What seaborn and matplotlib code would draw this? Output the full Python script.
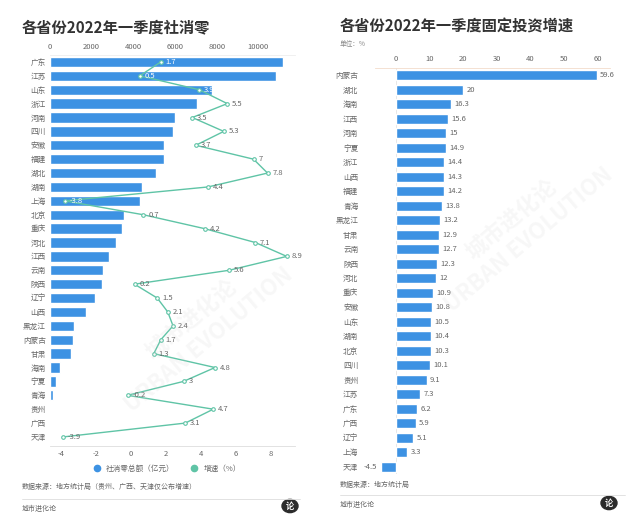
import numpy as np
import pandas as pd
import seaborn as sns
import matplotlib.pyplot as plt
from matplotlib.patches import Circle

# left panel: retail sales (亿元) and growth (%)
retail_prov = ["广东", "江苏", "山东", "浙江", "河南", "四川", "安徽", "福建", "湖北", "湖南",
               "上海", "北京", "重庆", "河北", "江西", "云南", "陕西", "辽宁", "山西", "黑龙江",
               "内蒙古", "甘肃", "海南", "宁夏", "青海", "贵州", "广西", "天津"]
retail_total = [11190, 10830, 7790, 7070, 5980, 5880, 5470, 5470, 5100, 4410,
                4340, 3540, 3460, 3170, 2840, 2530, 2480, 2150, 1730, 1140,
                1120, 990, 500, 290, 160, np.nan, np.nan, np.nan]
retail_growth = [1.7, 0.5, 3.9, 5.5, 3.5, 5.3, 3.7, 7, 7.8, 4.4,
                 -3.8, 0.7, 4.2, 7.1, 8.9, 5.6, 0.2, 1.5, 2.1, 2.4,
                 1.7, 1.3, 4.8, 3, -0.2, 4.7, 3.1, -3.9]

# right panel: fixed asset investment growth (%)
inv_prov = ["内蒙古", "湖北", "海南", "江西", "河南", "宁夏", "浙江", "山西", "福建", "青海",
            "黑龙江", "甘肃", "云南", "陕西", "河北", "重庆", "安徽", "山东", "湖南", "北京",
            "四川", "贵州", "江苏", "广东", "广西", "辽宁", "上海", "天津"]
inv_growth = [59.6, 20, 16.3, 15.6, 15, 14.9, 14.4, 14.3, 14.2, 13.8,
              13.2, 12.9, 12.7, 12.3, 12, 10.9, 10.8, 10.5, 10.4, 10.3,
              10.1, 9.1, 7.3, 6.2, 5.9, 5.1, 3.3, -4.5]

BLUE = "#3d92e3"
TEAL = "#5fc4a6"
GRAY = "#666666"

sns.set_style("white")
plt.rcParams["font.family"] = ["Noto Sans CJK SC", "DejaVu Sans"]
plt.rcParams["axes.unicode_minus"] = False

W, H = 644, 532
fig = plt.figure(figsize=(W / 100, H / 100), dpi=100)


def box(x0, y0, x1, y1):
    return [x0 / W, 1 - y1 / H, (x1 - x0) / W, (y1 - y0) / H]


def px(x, y):
    return x / W, 1 - y / H


n = len(retail_prov)
ypos = np.arange(n)
left = pd.DataFrame({"prov": retail_prov, "total": retail_total,
                     "growth": retail_growth, "y": ypos})

# ---- left panel ----
ax = fig.add_axes(box(50, 55, 295, 446))   # bottom axis: growth
axt = ax.twiny()                            # top axis: retail total

sns.barplot(data=left, x="total", y="prov", orient="h", color=BLUE,
            width=0.74, saturation=1, ax=axt)
axt.set_xlim(0, 11756)
axt.set_xticks([0, 2000, 4000, 6000, 8000, 10000])

ax.set_xlim(-4.63, 9.37)
ax.set_zorder(axt.get_zorder() + 1)
ax.patch.set_visible(False)
sns.lineplot(data=left, x="growth", y="y", orient="y", sort=False, color=TEAL,
             lw=1, marker="o", markersize=2.6, markerfacecolor="white",
             markeredgecolor=TEAL, markeredgewidth=0.8, ax=ax)
ax.set_xticks([-4, -2, 0, 2, 4, 6, 8])
ax.set_yticks(ypos)
ax.set_yticklabels(retail_prov)
ax.set_ylim(n - 0.35, -0.5)
axt.tick_params(axis="y", labelleft=False, labelright=False)
axt.set_ylabel("")
for a in (ax, axt):
    a.set_xlabel("")
    a.tick_params(length=0, labelsize=5.5, labelcolor=GRAY, pad=3)
    for s in a.spines.values():
        s.set_visible(False)
ax.set_ylabel("")
ax.spines["bottom"].set_visible(True)
ax.spines["bottom"].set_color("#dddddd")
ax.spines["bottom"].set_linewidth(0.6)
axt.spines["top"].set_visible(True)
axt.spines["top"].set_color("#eeeeee")
axt.spines["top"].set_linewidth(0.6)

# value labels on growth line (white where they sit on a bar)
for tot, g, y in zip(retail_total, retail_growth, ypos):
    gx = ax.transData.transform((g, y))[0]
    bx = axt.transData.transform((0 if np.isnan(tot) else tot, y))[0]
    col = "white" if gx < bx else GRAY
    ax.annotate(f"{g:g}", (g, y), xytext=(3.5, 0), textcoords="offset points",
                fontsize=5.5, color=col, va="center", ha="left")

fig.text(*px(22, 27), "各省份2022年一季度社消零", fontsize=11, weight="bold",
         color="#333333", va="center")

# legend
fig.legend(handles=[plt.Line2D([], [], ls="", marker="o", ms=4.5, color=BLUE),
                    plt.Line2D([], [], ls="", marker="o", ms=4.5, color=TEAL)],
           labels=["社消零总额（亿元）", "增速（%）"], loc="center",
           bbox_to_anchor=px(165, 469), ncol=2, frameon=False, fontsize=5.5,
           labelcolor=GRAY, handletextpad=0.2, columnspacing=1.6)

# ---- right panel ----
right = pd.DataFrame({"prov": inv_prov, "growth": inv_growth})
ax2 = fig.add_axes(box(375, 68, 610, 474))
sns.barplot(data=right, x="growth", y="prov", orient="h", color=BLUE,
            width=0.68, saturation=1, ax=ax2)
ax2.set_xlim(-6.2, 63.6)
ax2.set_ylim(n - 0.5, -0.5)
ax2.set_xticks([0, 10, 20, 30, 40, 50, 60])
ax2.xaxis.tick_top()
ax2.set_xlabel("")
ax2.set_ylabel("")
ax2.tick_params(length=0, labelsize=5.5, labelcolor=GRAY)
ax2.tick_params(axis="y", pad=12)
for s in ax2.spines.values():
    s.set_visible(False)
ax2.spines["top"].set_visible(True)
ax2.spines["top"].set_color("#f3dccb")
ax2.spines["top"].set_linewidth(0.6)
ax2.axvline(0, color="#e3e3e3", lw=0.6, zorder=0)
for i, v in enumerate(inv_growth):
    ax2.annotate(f"{v:g}", (v, i), xytext=(2.5 if v >= 0 else -2.5, 0),
                 textcoords="offset points", fontsize=5.5, color=GRAY,
                 va="center", ha="left" if v >= 0 else "right")

fig.text(*px(340, 27), "各省份2022年一季度固定投资增速", fontsize=11, weight="bold",
         color="#333333", va="center")
fig.text(*px(340, 44), "单位：%", fontsize=4.8, color="#888888", va="center")

# ---- footers ----
fig.text(*px(22, 487), "数据来源：地方统计局（贵州、广西、天津仅公布增速）", fontsize=5,
         color=GRAY, va="center")
fig.text(*px(340, 485), "数据来源：地方统计局", fontsize=5, color=GRAY, va="center")
fig.add_artist(plt.Line2D([22 / W, 300 / W], [1 - 499 / H] * 2, color="#dddddd", lw=0.6))
fig.add_artist(plt.Line2D([340 / W, 625 / W], [1 - 495 / H] * 2, color="#dddddd", lw=0.6))
fig.text(*px(22, 509), "城市进化论", fontsize=5, color=GRAY, va="center")
fig.text(*px(340, 505), "城市进化论", fontsize=5, color=GRAY, va="center")
for cx, cy in [(290, 506), (609, 503)]:
    fig.add_artist(Circle(px(cx, cy), 8 / W, transform=fig.transFigure,
                          color="#2b2b2b"))
    fig.text(*px(cx, cy), "论", fontsize=6, color="white", ha="center",
             va="center", weight="bold")

# faint watermarks
for wx, wy in [(200, 330), (520, 230)]:
    fig.text(*px(wx, wy), "城市进化论\nURBAN EVOLUTION", fontsize=16, color="#cccccc",
             alpha=0.15, rotation=40, ha="center", va="center", weight="bold")

fig.savefig("out.png", dpi=100)
